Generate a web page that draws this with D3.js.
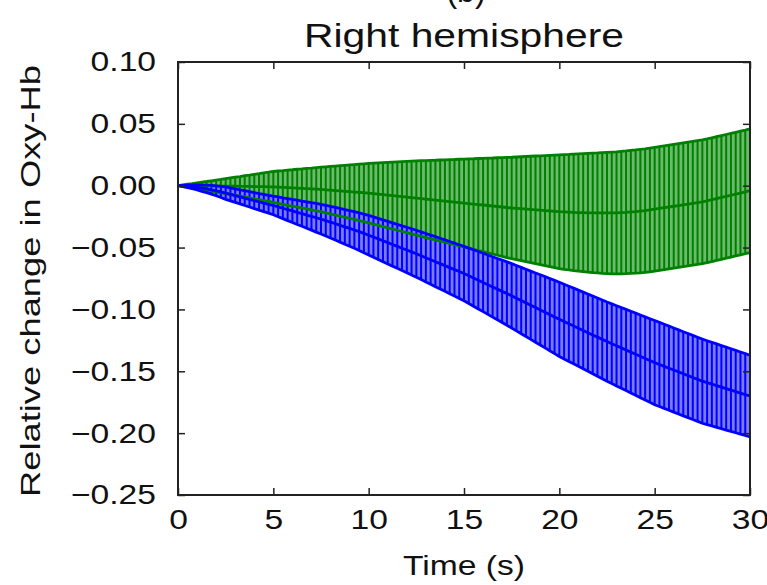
<!DOCTYPE html>
<html>
<head>
<meta charset="utf-8">
<script src="https://cdn.jsdelivr.net/npm/d3@7"></script>
<style>
  body { margin: 0; background: #fff; }
  svg { display: block; font-family: "Liberation Sans", Arial, sans-serif; }
</style>
</head>
<body>
<div id="chart"></div>
<script>
// time step of the recording (s), 121 samples from 0 to 30 s
var dt = 0.25;

// green series: mean and error half-width
var greenMean = [
  0, -0.0000, -0.0000, -0.0001, -0.0001, -0.0001, -0.0002, -0.0002, -0.0002, -0.0003, -0.0003,
  -0.0003, -0.0004, -0.0005, -0.0005, -0.0006, -0.0007, -0.0008, -0.0008, -0.0009, -0.0010,
  -0.0012, -0.0014, -0.0016, -0.0018, -0.0020, -0.0022, -0.0024, -0.0026, -0.0028, -0.0030,
  -0.0033, -0.0036, -0.0039, -0.0042, -0.0045, -0.0048, -0.0051, -0.0054, -0.0057, -0.0060,
  -0.0064, -0.0068, -0.0072, -0.0076, -0.0080, -0.0084, -0.0088, -0.0092, -0.0096, -0.0100,
  -0.0104, -0.0108, -0.0112, -0.0116, -0.0120, -0.0124, -0.0128, -0.0132, -0.0136, -0.0140,
  -0.0144, -0.0148, -0.0152, -0.0156, -0.0160, -0.0164, -0.0168, -0.0172, -0.0176, -0.0180,
  -0.0183, -0.0186, -0.0189, -0.0192, -0.0195, -0.0198, -0.0201, -0.0204, -0.0207, -0.0210,
  -0.0212, -0.0214, -0.0216, -0.0217, -0.0218, -0.0219, -0.0220, -0.0220, -0.0220, -0.0220,
  -0.0220, -0.0219, -0.0217, -0.0215, -0.0212, -0.0209, -0.0205, -0.0201, -0.0196, -0.0190,
  -0.0184, -0.0178, -0.0172, -0.0166, -0.0160, -0.0154, -0.0148, -0.0142, -0.0136, -0.0130,
  -0.0122, -0.0113, -0.0104, -0.0095, -0.0086, -0.0077, -0.0068, -0.0059, -0.0050, -0.0040
];
var greenErr = [
  0, 0.0006, 0.0012, 0.0018, 0.0024, 0.0030, 0.0036, 0.0042, 0.0048, 0.0054, 0.0060,
  0.0066, 0.0073, 0.0079, 0.0086, 0.0092, 0.0099, 0.0105, 0.0112, 0.0118, 0.0125,
  0.0131, 0.0136, 0.0142, 0.0147, 0.0153, 0.0158, 0.0164, 0.0169, 0.0175, 0.0180,
  0.0186, 0.0192, 0.0198, 0.0204, 0.0210, 0.0216, 0.0222, 0.0228, 0.0234, 0.0240,
  0.0246, 0.0252, 0.0258, 0.0264, 0.0270, 0.0276, 0.0282, 0.0288, 0.0294, 0.0300,
  0.0306, 0.0311, 0.0317, 0.0322, 0.0328, 0.0333, 0.0339, 0.0344, 0.0350, 0.0355,
  0.0361, 0.0366, 0.0372, 0.0377, 0.0383, 0.0388, 0.0394, 0.0399, 0.0405, 0.0410,
  0.0415, 0.0420, 0.0425, 0.0430, 0.0435, 0.0440, 0.0445, 0.0450, 0.0455, 0.0460,
  0.0464, 0.0467, 0.0471, 0.0474, 0.0477, 0.0480, 0.0483, 0.0485, 0.0488, 0.0490,
  0.0492, 0.0493, 0.0495, 0.0496, 0.0497, 0.0498, 0.0499, 0.0499, 0.0500, 0.0500,
  0.0500, 0.0500, 0.0500, 0.0500, 0.0500, 0.0500, 0.0500, 0.0500, 0.0500, 0.0500,
  0.0500, 0.0500, 0.0500, 0.0500, 0.0500, 0.0500, 0.0500, 0.0500, 0.0500, 0.0500
];

// blue series: mean and error half-width
var blueMean = [
  0, -0.0002, -0.0005, -0.0009, -0.0014, -0.0020, -0.0026, -0.0033, -0.0041, -0.0050, -0.0060,
  -0.0070, -0.0080, -0.0090, -0.0100, -0.0110, -0.0120, -0.0130, -0.0140, -0.0150, -0.0160,
  -0.0171, -0.0182, -0.0193, -0.0204, -0.0215, -0.0226, -0.0237, -0.0248, -0.0259, -0.0270,
  -0.0282, -0.0295, -0.0307, -0.0320, -0.0333, -0.0345, -0.0358, -0.0371, -0.0385, -0.0400,
  -0.0415, -0.0430, -0.0445, -0.0460, -0.0475, -0.0490, -0.0505, -0.0520, -0.0535, -0.0550,
  -0.0566, -0.0582, -0.0598, -0.0614, -0.0630, -0.0646, -0.0662, -0.0678, -0.0694, -0.0710,
  -0.0728, -0.0746, -0.0764, -0.0782, -0.0800, -0.0818, -0.0836, -0.0854, -0.0872, -0.0890,
  -0.0909, -0.0928, -0.0947, -0.0966, -0.0985, -0.1004, -0.1023, -0.1042, -0.1061, -0.1080,
  -0.1098, -0.1116, -0.1134, -0.1152, -0.1170, -0.1188, -0.1206, -0.1224, -0.1242, -0.1260,
  -0.1277, -0.1294, -0.1311, -0.1328, -0.1345, -0.1362, -0.1379, -0.1396, -0.1413, -0.1430,
  -0.1445, -0.1460, -0.1475, -0.1490, -0.1505, -0.1520, -0.1535, -0.1550, -0.1565, -0.1580,
  -0.1592, -0.1604, -0.1616, -0.1628, -0.1640, -0.1652, -0.1664, -0.1676, -0.1688, -0.1700
];
var blueErr = [
  0, 0.0005, 0.0010, 0.0015, 0.0020, 0.0025, 0.0030, 0.0035, 0.0040, 0.0045, 0.0050,
  0.0052, 0.0055, 0.0057, 0.0060, 0.0062, 0.0065, 0.0067, 0.0070, 0.0072, 0.0075,
  0.0080, 0.0084, 0.0089, 0.0093, 0.0098, 0.0102, 0.0107, 0.0111, 0.0116, 0.0120,
  0.0124, 0.0128, 0.0132, 0.0136, 0.0140, 0.0144, 0.0148, 0.0152, 0.0156, 0.0160,
  0.0163, 0.0166, 0.0169, 0.0172, 0.0175, 0.0178, 0.0181, 0.0184, 0.0187, 0.0190,
  0.0193, 0.0196, 0.0199, 0.0202, 0.0205, 0.0208, 0.0211, 0.0214, 0.0217, 0.0220,
  0.0224, 0.0228, 0.0232, 0.0236, 0.0240, 0.0244, 0.0248, 0.0252, 0.0256, 0.0260,
  0.0264, 0.0268, 0.0272, 0.0276, 0.0280, 0.0284, 0.0288, 0.0292, 0.0296, 0.0300,
  0.0302, 0.0304, 0.0306, 0.0308, 0.0310, 0.0312, 0.0314, 0.0316, 0.0318, 0.0320,
  0.0322, 0.0324, 0.0326, 0.0328, 0.0330, 0.0332, 0.0334, 0.0336, 0.0338, 0.0340,
  0.0340, 0.0340, 0.0340, 0.0340, 0.0340, 0.0340, 0.0340, 0.0340, 0.0340, 0.0340,
  0.0339, 0.0338, 0.0337, 0.0336, 0.0335, 0.0334, 0.0333, 0.0332, 0.0331, 0.0330
];

var xTicks = [0, 5, 10, 15, 20, 25, 30];
var yTicks = [0.10, 0.05, 0.00, -0.05, -0.10, -0.15, -0.20, -0.25];

var W = 767, H = 585;
var margin = {top: 62, right: 17, bottom: 90, left: 178};
var stretch = 1.2; // the original figure is a bit wider than tall

var x = d3.scaleLinear().domain([0, 30]).range([margin.left, W - margin.right]);
var y = d3.scaleLinear().domain([-0.25, 0.10]).range([H - margin.bottom, margin.top]);

var svg = d3.select("#chart").append("svg")
    .attr("width", W)
    .attr("height", H);

function toRows(mean, err) {
    return mean.map(function(m, i) {
        return {t: i * dt, m: m, lo: m - err[i], hi: m + err[i]};
    });
}

var series = [
    {name: "green", rows: toRows(greenMean, greenErr), dark: "#008000", light: "#6cba6c"},
    {name: "blue", rows: toRows(blueMean, blueErr), dark: "#0000ff", light: "#7b7bff"}
];

var area = d3.area()
    .x(function(d) { return x(d.t); })
    .y0(function(d) { return y(d.lo); })
    .y1(function(d) { return y(d.hi); });

// error bands + bars
series.forEach(function(s) {
    var g = svg.append("g").attr("class", "band " + s.name);
    g.append("path")
        .datum(s.rows)
        .attr("d", area)
        .attr("fill", s.light);
    g.selectAll("line")
        .data(s.rows)
        .enter().append("line")
        .attr("x1", function(d) { return x(d.t); })
        .attr("x2", function(d) { return x(d.t); })
        .attr("y1", function(d) { return y(d.lo); })
        .attr("y2", function(d) { return y(d.hi); })
        .attr("stroke", s.dark)
        .attr("stroke-width", 2);
});

// mean and edge lines on top
series.forEach(function(s) {
    ["m", "lo", "hi"].forEach(function(k) {
        svg.append("path")
            .datum(s.rows)
            .attr("d", d3.line()
                .x(function(d) { return x(d.t); })
                .y(function(d) { return y(d[k]); }))
            .attr("fill", "none")
            .attr("stroke", s.dark)
            .attr("stroke-width", 2.8);
    });
});

// axes, ticks inside on all four sides
var fmt = d3.format(".2f");
var ink = "#222";

var left = svg.append("g")
    .attr("transform", "translate(" + margin.left + ",0)")
    .call(d3.axisLeft(y).tickValues(yTicks).tickFormat(fmt).tickSize(-7).tickPadding(22));
var bottom = svg.append("g")
    .attr("transform", "translate(0," + (H - margin.bottom) + ")")
    .call(d3.axisBottom(x).tickValues(xTicks).tickSize(-7).tickPadding(14));
svg.append("g")
    .attr("transform", "translate(" + (W - margin.right) + ",0)")
    .call(d3.axisRight(y).tickValues(yTicks).tickFormat("").tickSize(-7));
svg.append("g")
    .attr("transform", "translate(0," + margin.top + ")")
    .call(d3.axisTop(x).tickValues(xTicks).tickFormat("").tickSize(-7));

svg.selectAll(".domain").remove();
svg.selectAll(".tick line").attr("stroke", ink).attr("stroke-width", 1.5);

[left, bottom].forEach(function(ax) {
    ax.selectAll("text")
        .attr("font-size", 28)
        .attr("fill", "#111")
        .attr("font-family", "Liberation Sans, Arial, sans-serif")
        .each(function() {
            var len = this.getComputedTextLength();
            d3.select(this).attr("textLength", len * stretch).attr("lengthAdjust", "spacingAndGlyphs");
        });
});

svg.append("rect")
    .attr("x", margin.left)
    .attr("y", margin.top)
    .attr("width", W - margin.left - margin.right)
    .attr("height", H - margin.bottom - margin.top)
    .attr("fill", "none")
    .attr("stroke", ink)
    .attr("stroke-width", 2);

// titles
svg.append("text")
    .attr("x", 466).attr("y", 2)
    .attr("text-anchor", "middle")
    .attr("font-size", 32)
    .attr("fill", "#111")
    .text("(b)");

svg.append("text")
    .attr("x", 464).attr("y", 47)
    .attr("text-anchor", "middle")
    .attr("font-size", 33)
    .attr("fill", "#111")
    .attr("textLength", 320).attr("lengthAdjust", "spacingAndGlyphs")
    .text("Right hemisphere");

svg.append("text")
    .attr("x", (margin.left + W - margin.right) / 2).attr("y", 575)
    .attr("text-anchor", "middle")
    .attr("font-size", 28)
    .attr("fill", "#111")
    .attr("textLength", 122).attr("lengthAdjust", "spacingAndGlyphs")
    .text("Time (s)");

svg.append("text")
    .attr("transform", "translate(40,281) rotate(-90)")
    .attr("text-anchor", "middle")
    .attr("font-size", 28)
    .attr("fill", "#111")
    .attr("textLength", 432).attr("lengthAdjust", "spacingAndGlyphs")
    .text("Relative change in Oxy-Hb");
</script>
</body>
</html>
